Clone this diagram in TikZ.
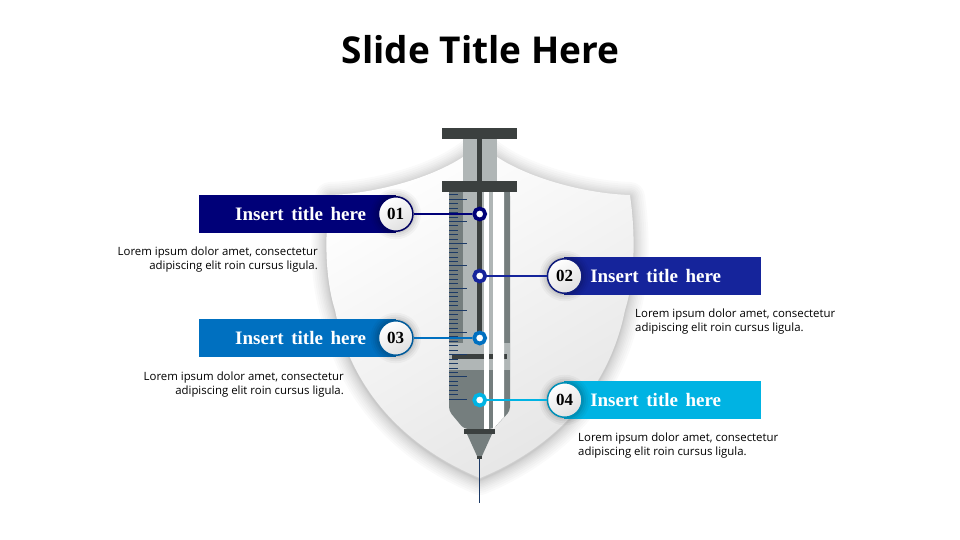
\documentclass[tikz,border=0pt]{standalone}
\usepackage{fontspec}
\setmainfont{Open Sans}
\newfontfamily\barfont[WordSpace=1.6]{Liberation Serif}
\usetikzlibrary{positioning}

\definecolor{colA}{HTML}{000078}
\definecolor{colB}{HTML}{15249B}
\definecolor{colC}{HTML}{0070C0}
\definecolor{colD}{HTML}{00B3E3}
\definecolor{plate}{HTML}{3B403F}
\definecolor{lightgl}{HTML}{B0B6B6}
\definecolor{darkgl}{HTML}{757E7E}
\definecolor{tick}{HTML}{1C3A66}

\tikzset{
   titlebar/.style={draw=none,fill=#1,minimum width=197pt,minimum height=38pt,inner sep=0pt},
   bartext/.style={text=white,inner sep=0pt,font=\barfont\bfseries\fontsize{19}{21}\selectfont},
   ring/.style={circle,draw=#1,fill=white,line width=3.7pt,minimum size=11pt,inner sep=0pt},
   numdisc/.style={circle,draw=#1!80!black,line width=1.5pt,minimum size=34.5pt,inner sep=0pt,
      top color=white,bottom color=black!12,shading angle=30,
      font=\barfont\bfseries\fontsize{17}{19}\selectfont,
      preaction={draw=black,draw opacity=.03,line width=16pt},
      preaction={draw=black,draw opacity=.04,line width=12pt},
      preaction={draw=black,draw opacity=.05,line width=8pt},
      preaction={draw=black,draw opacity=.07,line width=4pt}},
   link/.style={draw=#1,line width=2pt},
   para/.style={inner sep=0pt,font=\fontsize{11.4}{14}\selectfont},
}

\def\shieldpath{(480,142) .. controls (500,168) and (570,193) .. (630,195)
   .. controls (635,230) and (636,275) .. (625,310)
   .. controls (610,385) and (560,445) .. (480,478)
   .. controls (400,445) and (350,385) .. (335,310)
   .. controls (324,275) and (325,230) .. (330,195)
   .. controls (390,193) and (460,168) .. (480,142) -- cycle}

\begin{document}
\begin{tikzpicture}[x=1pt,y=-1pt,on grid]
   \useasboundingbox (0,0) rectangle (960,540);

   \node[inner sep=0pt,font=\bfseries\fontsize{37}{42}\selectfont] (title) at (480.5,50) {Slide Title Here};

   \foreach \w in {30,26,22,18,15,12,9,7,5,3,2,1}
      \draw[black,opacity=.02,line width=\w pt,line join=round,yshift=-2pt] \shieldpath;
   \path[top color=white,bottom color=black!10,shading angle=30] \shieldpath;

   \fill[plate] (442,128) rectangle (517,139);
   \fill[lightgl] (463,139) rectangle (497,181);
   \fill[darkgl,rounded corners=4pt] (449,192) -- (449,411) -- (464,429) -- (493,429) -- (510,411) -- (510,192) -- cycle;
   \fill[darkgl] (449,192) rectangle (510,200);
   \fill[lightgl] (463,192) rectangle (493,343);
   \fill[lightgl] (449,343) rectangle (510,370);
   \fill[plate] (452,354) rectangle (507,359);
   \fill[white] (484,192) rectangle (489,429);
   \fill[white] (493,192) -- (504,192) -- (504,417) -- (493,429) -- cycle;
   \fill[plate] (477,139) rectangle (482,338);
   \fill[plate] (442,181) rectangle (517,192);
   \fill[plate] (464,429) rectangle (495,434);
   \fill[darkgl] (467,434) -- (492,434) -- (482,456) -- (477,456) -- cycle;
   \fill[plate] (477,456) rectangle (482,459);
   \draw[tick,line width=1pt] (479.5,459) -- (479.5,503);
   \foreach \i in {0,...,9}
      \draw[tick,line width=1pt] (449,199.3+22.2*\i) -- (467,199.3+22.2*\i);
   \foreach \i in {-1,1,2,3,4,6,7,8,9,11,12,13,14,16,17,18,19,21,22,23,24,26,27,28,29,31,32,33,34,36,37,38,39,41,42,43,44}
      \draw[tick,line width=1pt] (449,199.3+4.44*\i) -- (458,199.3+4.44*\i);

   \node[ring=colA] (ring01) at (479.7,214) {};
   \node[ring=colB] (ring02) [below=62pt of ring01] {};
   \node[ring=colC] (ring03) [below=62pt of ring02] {};
   \node[ring=colD] (ring04) [below=62pt of ring03] {};

   \node[titlebar=colA] (bar01) [left=182.2pt of ring01] {};
   \node[titlebar=colB] (bar02) [right=182.8pt of ring02] {};
   \node[titlebar=colC] (bar03) [left=182.2pt of ring03] {};
   \node[titlebar=colD] (bar04) [right=182.8pt of ring04] {};

   \node[numdisc=colA] (num01) [left=84pt of ring01] {01};
   \node[numdisc=colB] (num02) [right=85pt of ring02] {02};
   \node[numdisc=colC] (num03) [left=84pt of ring03] {03};
   \node[numdisc=colD] (num04) [right=85pt of ring04] {04};

   \node[bartext] (text01) [left=95pt of num01] {Insert title here};
   \node[bartext] (text02) [right=91pt of num02] {Insert title here};
   \node[bartext] (text03) [left=95pt of num03] {Insert title here};
   \node[bartext] (text04) [right=91pt of num04] {Insert title here};

   \path[link=colA] (num01) edge (ring01);
   \path[link=colB] (num02) edge (ring02);
   \path[link=colC] (num03) edge (ring03);
   \path[link=colD] (num04) edge (ring04);

   \node[para,align=right,anchor=north east] (para01) at (318,247) {Lorem ipsum dolor amet, consectetur\\adipiscing elit roin cursus ligula.};
   \node[para,align=left,anchor=north west] (para02) at (635,309) {Lorem ipsum dolor amet, consectetur\\adipiscing elit roin cursus ligula.};
   \node[para,align=right,anchor=north east] (para03) at (344,372) {Lorem ipsum dolor amet, consectetur\\adipiscing elit roin cursus ligula.};
   \node[para,align=left,anchor=north west] (para04) at (578,432.5) {Lorem ipsum dolor amet, consectetur\\adipiscing elit roin cursus ligula.};
\end{tikzpicture}
\end{document}
